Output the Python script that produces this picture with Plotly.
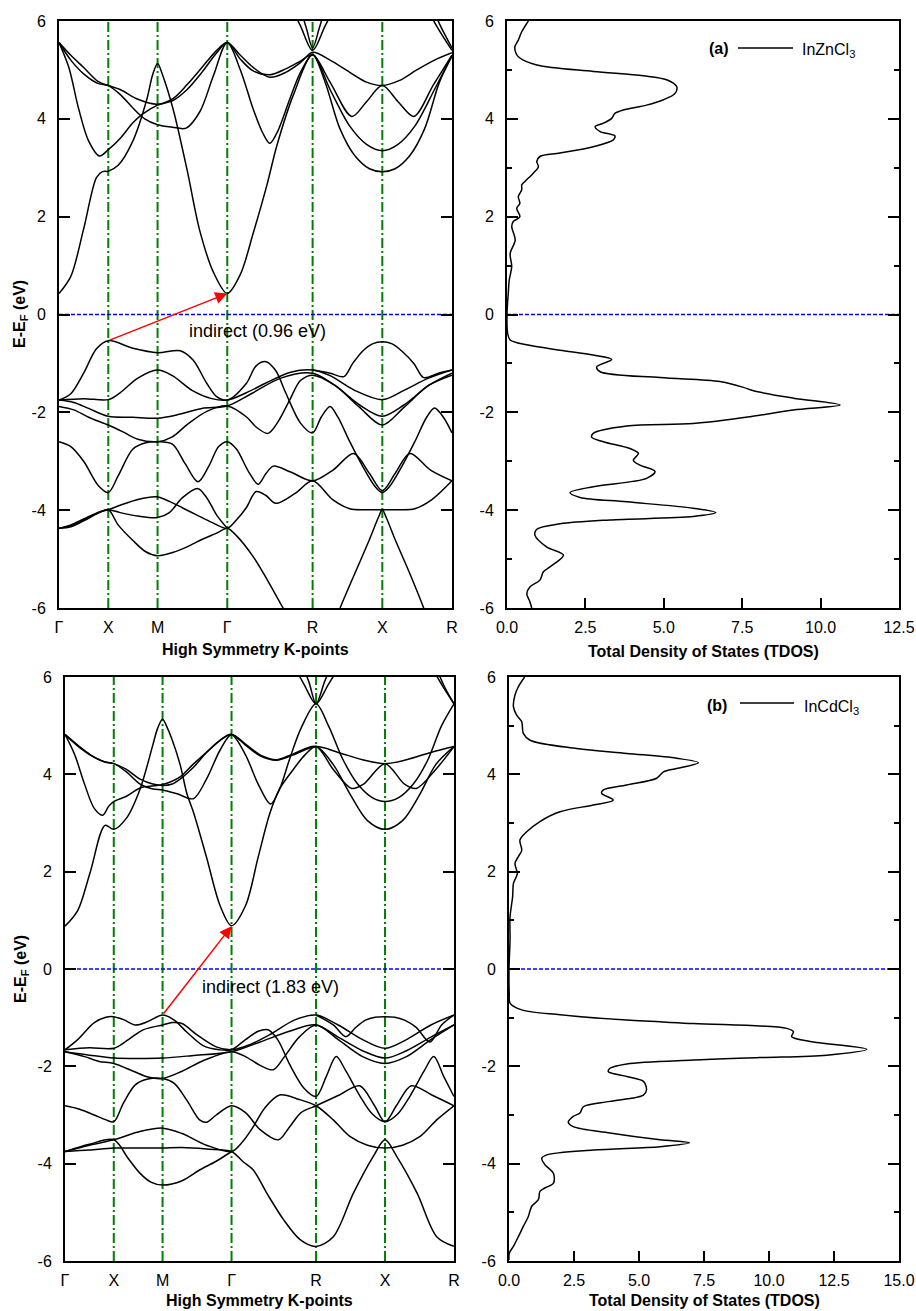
import plotly.graph_objects as go

W, H = 916, 1311
FONT = "Liberation Sans, Arial, sans-serif"

# ---------------- axes / labels ----------------
K = [0.0, 0.5, 1.0, 1.7071, 2.5731, 3.2802, 3.9873]
K_LABELS = ["Γ", "X", "M", "Γ", "R", "X", "R"]
E_TICKS = [-6, -4, -2, 0, 2, 4, 6]
E_TICK_TEXT = ["-6", "-4", "-2", "0", "2", "4", "6"]
E_MINOR = [-5, -3, -1, 1, 3, 5]
DOS_A_TICKS = [0, 2.5, 5, 7.5, 10, 12.5]
DOS_A_TEXT = ["0.0", "2.5", "5.0", "7.5", "10.0", "12.5"]
DOS_B_TICKS = [0, 2.5, 5, 7.5, 10, 12.5, 15]
DOS_B_TEXT = ["0.0", "2.5", "5.0", "7.5", "10.0", "12.5", "15.0"]

# ---------------- panel (a) InZnCl3 bands: (k, E) ----------------
a_c1 = [(0, 0.43), (0.12, 0.78), (0.25, 1.75), (0.38, 2.8), (0.44, 2.92), (0.5, 2.93), (0.6, 3.05),
        (0.75, 3.55), (0.89, 4.39), (0.95, 4.9), (1.0, 5.13), (1.05, 4.9), (1.16, 4.18), (1.3, 2.95),
        (1.43, 1.7), (1.57, 0.85), (1.707, 0.43), (1.84, 0.82), (1.97, 1.66), (2.11, 2.65), (2.21, 3.45),
        (2.38, 4.5), (2.573, 5.31), (2.75, 4.6), (2.95, 3.85), (3.12, 3.48), (3.28, 3.35), (3.44, 3.48),
        (3.61, 3.85), (3.81, 4.6), (3.987, 5.3)]
a_c2 = [(0, 5.56), (0.1, 5.05), (0.2, 4.2), (0.3, 3.55), (0.41, 3.24), (0.5, 3.37), (0.62, 3.6),
        (0.75, 3.92), (0.85, 4.1), (1.0, 4.28), (1.16, 4.38), (1.3, 4.6), (1.45, 4.95), (1.6, 5.35),
        (1.707, 5.56), (1.84, 5.0), (1.97, 4.2), (2.07, 3.7), (2.14, 3.5), (2.22, 3.75), (2.35, 4.45),
        (2.45, 4.95), (2.573, 5.31), (2.7, 4.75), (2.85, 3.8), (3.0, 3.25), (3.15, 2.98), (3.28, 2.92),
        (3.41, 2.98), (3.56, 3.25), (3.71, 3.8), (3.86, 4.75), (3.987, 5.28)]
a_c3 = [(0, 5.56), (0.12, 5.3), (0.25, 5.05), (0.4, 4.76), (0.5, 4.68), (0.62, 4.6), (0.8, 4.4),
        (1.0, 4.3), (1.16, 4.42), (1.3, 4.7), (1.45, 5.05), (1.6, 5.4), (1.707, 5.56), (1.84, 5.3),
        (1.97, 5.05), (2.14, 4.85), (2.3, 4.95), (2.45, 5.15), (2.573, 5.36), (2.75, 5.2), (2.95, 4.95),
        (3.12, 4.75), (3.28, 4.68), (3.45, 4.78), (3.63, 5.0), (3.81, 5.2), (3.987, 5.35)]
a_c4 = [(0, 5.56), (0.12, 5.2), (0.25, 4.92), (0.4, 4.72), (0.5, 4.68), (0.62, 4.5), (0.75, 4.22),
        (0.87, 4.0), (1.0, 3.88), (1.15, 3.83), (1.29, 3.81), (1.43, 4.15), (1.57, 4.9), (1.707, 5.56),
        (1.84, 5.22), (1.97, 4.98), (2.14, 4.9), (2.3, 5.02), (2.45, 5.18), (2.573, 5.31), (2.75, 4.75),
        (2.97, 4.05), (3.12, 4.35), (3.28, 4.68), (3.44, 4.35), (3.6, 4.05), (3.8, 4.7), (3.987, 5.3)]
a_u1 = [(2.33, 6.4), (2.45, 5.9), (2.573, 5.40), (2.70, 5.9), (2.83, 6.4)]
a_u2 = [(2.43, 6.4), (2.51, 5.85), (2.573, 5.45), (2.64, 5.85), (2.72, 6.4)]
a_u3 = [(3.70, 6.4), (3.83, 5.9), (3.987, 5.40)]
a_u4 = [(3.76, 6.4), (3.87, 5.9), (3.987, 5.45)]

a_v1 = [(0, -1.75), (0.12, -1.62), (0.25, -1.2), (0.38, -0.7), (0.5, -0.535), (0.75, -0.69), (1.0, -0.78),
        (1.23, -0.74), (1.36, -0.93), (1.5, -1.41), (1.6, -1.68), (1.707, -1.75), (1.9, -1.41), (2.0, -1.05),
        (2.1, -0.965), (2.2, -1.15), (2.3, -1.6), (2.45, -2.22), (2.573, -2.42), (2.66, -2.1), (2.75, -1.88),
        (2.83, -2.1), (2.95, -2.6), (3.08, -3.1), (3.2, -3.5), (3.28, -3.64), (3.36, -3.5), (3.48, -3.1),
        (3.61, -2.6), (3.73, -2.1), (3.81, -1.91), (3.9, -2.1), (3.987, -2.42)]
a_v2 = [(0, -1.75), (0.25, -1.72), (0.5, -1.74), (0.62, -1.6), (0.8, -1.3), (1.0, -1.135), (1.15, -1.25),
        (1.35, -1.55), (1.55, -1.72), (1.707, -1.75), (1.9, -1.6), (2.1, -1.4), (2.35, -1.18), (2.573, -1.135),
        (2.75, -1.25), (3.0, -1.55), (3.28, -1.74), (3.5, -1.55), (3.75, -1.3), (3.987, -1.135)]
a_v3 = [(0, -1.75), (0.15, -1.8), (0.3, -1.92), (0.5, -2.08), (0.75, -2.1), (1.0, -2.12), (1.2, -2.05),
        (1.45, -1.92), (1.707, -1.87), (1.95, -1.62), (2.25, -1.3), (2.573, -1.2), (2.8, -1.45), (3.05, -1.85),
        (3.28, -2.08), (3.5, -1.85), (3.75, -1.45), (3.987, -1.2)]
a_v4 = [(0, -1.88), (0.15, -1.95), (0.3, -2.1), (0.5, -2.26), (0.65, -2.4), (0.8, -2.55), (1.0, -2.6),
        (1.15, -2.5), (1.3, -2.25), (1.5, -1.98), (1.707, -1.87), (1.9, -2.09), (2.0, -2.3), (2.12, -2.43),
        (2.22, -2.2), (2.34, -1.75), (2.45, -1.35), (2.573, -1.24), (2.8, -1.45), (3.05, -1.9), (3.28, -2.26),
        (3.5, -1.9), (3.75, -1.45), (3.987, -1.24)]
a_v5 = [(0, -2.6), (0.12, -2.7), (0.25, -3.0), (0.4, -3.5), (0.5, -3.64), (0.6, -3.3), (0.75, -2.75),
        (0.88, -2.62), (1.0, -2.6), (1.15, -2.65), (1.28, -3.05), (1.41, -3.42), (1.52, -3.1), (1.62, -2.7),
        (1.707, -2.6), (1.8, -2.75), (1.92, -3.2), (2.02, -3.47), (2.1, -3.25), (2.175, -3.1), (2.35, -3.22),
        (2.573, -3.4), (2.78, -3.18), (2.99, -2.84), (3.15, -3.25), (3.28, -3.6), (3.41, -3.25), (3.56, -2.84),
        (3.77, -3.18), (3.987, -3.4)]
a_v6 = [(2.573, -1.135), (2.75, -1.2), (2.89, -1.27), (2.98, -1.0), (3.08, -0.75), (3.18, -0.6),
        (3.28, -0.556), (3.38, -0.6), (3.48, -0.75), (3.6, -1.0), (3.70, -1.29), (3.85, -1.2), (3.987, -1.135)]
a_v7 = [(0, -4.37), (0.12, -4.3), (0.25, -4.18), (0.4, -4.04), (0.5, -3.99), (0.62, -3.9), (0.8, -3.78),
        (1.0, -3.73), (1.12, -3.82), (1.26, -3.96), (1.4, -4.1), (1.55, -4.25), (1.707, -4.37), (1.8, -4.2),
        (1.9, -3.95), (2.0, -3.62), (2.1, -3.7), (2.2, -3.86), (2.4, -3.65), (2.573, -3.4), (2.78, -3.79),
        (2.95, -3.97), (3.1, -3.99), (3.28, -3.99), (3.46, -3.99), (3.61, -3.97), (3.78, -3.79), (3.987, -3.4)]
a_v8 = [(0, -4.37), (0.12, -4.32), (0.25, -4.2), (0.4, -4.05), (0.5, -3.99), (0.62, -4.05), (0.8, -4.12),
        (1.0, -4.15), (1.12, -4.05), (1.25, -3.75), (1.41, -3.56), (1.5, -3.75), (1.6, -4.1), (1.707, -4.37)]
a_v9 = [(0, -4.37), (0.12, -4.34), (0.25, -4.22), (0.4, -4.06), (0.5, -3.99), (0.6, -4.3), (0.75, -4.62),
        (0.88, -4.85), (1.0, -4.93), (1.16, -4.86), (1.3, -4.75), (1.45, -4.6), (1.6, -4.47), (1.707, -4.37),
        (1.8, -4.52), (1.97, -4.95), (2.12, -5.45), (2.276, -6.01), (2.4, -6.45)]
a_v10 = [(2.78, -6.4), (2.852, -6.0), (3.0, -5.3), (3.15, -4.6), (3.24, -4.15), (3.28, -3.99), (3.32, -4.15),
         (3.41, -4.6), (3.56, -5.3), (3.70, -6.0), (3.77, -6.4)]

bands_a = [a_c1, a_c2, a_c3, a_c4, a_u1, a_u2, a_u3, a_u4,
           a_v1, a_v2, a_v3, a_v4, a_v5, a_v6, a_v7, a_v8, a_v9, a_v10]

# ---------------- panel (b) InCdCl3 bands: (k, E) ----------------
b_c1 = [(0, 0.88), (0.13, 1.2), (0.26, 2.0), (0.41, 2.95), (0.5, 2.87), (0.63, 3.1), (0.77, 3.7),
        (0.9, 4.6), (0.95, 4.95), (1.0, 5.13), (1.05, 4.95), (1.1, 4.7), (1.18, 4.2), (1.25, 3.6),
        (1.32, 3.2), (1.45, 2.3), (1.59, 1.3), (1.707, 0.89), (1.85, 1.3), (1.98, 2.3), (2.1, 3.2),
        (2.2, 3.7), (2.34, 4.1), (2.46, 4.4), (2.573, 4.57), (2.75, 4.2), (2.92, 3.6), (3.1, 3.05),
        (3.28, 2.87), (3.46, 3.05), (3.64, 3.6), (3.8, 4.2), (3.987, 4.57)]
b_c2 = [(0, 4.82), (0.1, 4.4), (0.2, 3.8), (0.3, 3.3), (0.386, 3.16), (0.45, 3.35), (0.5, 3.44),
        (0.63, 3.55), (0.77, 3.72), (1.0, 3.79), (1.18, 3.95), (1.31, 4.2), (1.45, 4.45), (1.59, 4.7),
        (1.707, 4.82), (1.85, 4.4), (1.98, 3.8), (2.108, 3.39), (2.2, 3.7), (2.3, 4.3), (2.42, 4.95),
        (2.573, 5.45), (2.7, 5.0), (2.85, 4.3), (3.0, 3.8), (3.15, 3.52), (3.28, 3.44), (3.42, 3.52),
        (3.57, 3.8), (3.72, 4.3), (3.86, 5.0), (3.987, 5.45)]
b_c3 = [(0, 4.82), (0.13, 4.6), (0.26, 4.4), (0.4, 4.26), (0.5, 4.22), (0.63, 4.1), (0.77, 3.9),
        (0.9, 3.8), (1.0, 3.77), (1.1, 3.8), (1.18, 3.9), (1.32, 4.15), (1.45, 4.45), (1.59, 4.7),
        (1.707, 4.82), (1.85, 4.6), (2.0, 4.38), (2.169, 4.29), (2.34, 4.4), (2.573, 4.57), (2.8, 4.45),
        (3.05, 4.3), (3.28, 4.22), (3.5, 4.3), (3.75, 4.45), (3.987, 4.57)]
b_c4 = [(0, 4.82), (0.15, 4.55), (0.3, 4.35), (0.42, 4.25), (0.5, 4.22), (0.63, 4.05), (0.77, 3.8),
        (0.9, 3.7), (1.0, 3.68), (1.15, 3.6), (1.315, 3.5), (1.45, 3.9), (1.59, 4.5), (1.707, 4.82),
        (1.85, 4.62), (2.0, 4.4), (2.169, 4.3), (2.34, 4.42), (2.573, 4.57), (2.75, 4.1), (2.94, 3.71),
        (3.06, 3.8), (3.28, 4.22), (3.48, 3.8), (3.6, 3.71), (3.8, 4.1), (3.987, 4.57)]
b_u1 = [(2.33, 6.3), (2.45, 5.85), (2.573, 5.45), (2.70, 5.85), (2.84, 6.3)]
b_u2 = [(2.42, 6.3), (2.5, 5.9), (2.573, 5.45), (2.66, 5.9), (2.74, 6.3)]
b_u3 = [(3.73, 6.3), (3.86, 5.85), (3.987, 5.45)]
b_u4 = [(3.78, 6.3), (3.89, 5.8), (3.987, 5.45)]

b_v1 = [(0, -1.66), (0.13, -1.45), (0.3, -1.1), (0.42, -0.99), (0.5, -0.98), (0.6, -1.04), (0.72, -1.15),
        (0.85, -1.08), (1.0, -0.945), (1.12, -1.05), (1.25, -1.3), (1.42, -1.58), (1.58, -1.66),
        (1.707, -1.66), (1.85, -1.45), (1.98, -1.28), (2.08, -1.25), (2.18, -1.45), (2.3, -1.95),
        (2.45, -2.45), (2.573, -2.62), (2.68, -2.2), (2.78, -1.8), (2.88, -2.1), (3.02, -2.6), (3.15, -2.98),
        (3.28, -3.14), (3.41, -2.98), (3.54, -2.6), (3.68, -2.1), (3.78, -1.8), (3.88, -2.2), (3.987, -2.62)]
b_v2 = [(0, -1.66), (0.25, -1.62), (0.5, -1.63), (0.65, -1.45), (0.8, -1.25), (1.0, -1.15), (1.1, -1.1),
        (1.2, -1.12), (1.35, -1.35), (1.55, -1.6), (1.707, -1.66), (1.9, -1.55), (2.1, -1.35), (2.35, -1.05),
        (2.573, -0.945), (2.8, -1.15), (3.05, -1.45), (3.28, -1.63), (3.5, -1.45), (3.75, -1.15), (3.987, -0.945)]
b_v3 = [(0, -1.70), (0.25, -1.77), (0.5, -1.83), (0.75, -1.84), (1.0, -1.83), (1.3, -1.78), (1.707, -1.70),
        (2.0, -1.5), (2.3, -1.28), (2.573, -1.15), (2.8, -1.4), (3.05, -1.68), (3.28, -1.83), (3.5, -1.68),
        (3.75, -1.4), (3.987, -1.15)]
b_v4 = [(0, -1.70), (0.2, -1.8), (0.35, -1.9), (0.5, -1.94), (0.7, -2.1), (0.85, -2.22), (1.0, -2.25),
        (1.2, -2.1), (1.42, -1.88), (1.707, -1.70), (1.85, -1.8), (2.0, -1.98), (2.135, -2.07), (2.25, -1.8),
        (2.4, -1.4), (2.573, -1.15), (2.8, -1.45), (3.05, -1.8), (3.28, -1.94), (3.5, -1.8), (3.75, -1.45),
        (3.987, -1.15)]
b_v5 = [(0, -2.81), (0.15, -2.88), (0.3, -3.0), (0.42, -3.1), (0.5, -3.14), (0.6, -2.75), (0.72, -2.38),
        (0.85, -2.26), (1.0, -2.25), (1.12, -2.35), (1.25, -2.7), (1.38, -3.1), (1.45, -3.15), (1.55, -3.0),
        (1.707, -2.81), (1.85, -2.95), (2.0, -3.3), (2.187, -3.51), (2.3, -3.25), (2.42, -2.95), (2.573, -2.81),
        (2.8, -2.6), (3.02, -2.4), (3.17, -2.8), (3.28, -3.14), (3.4, -2.8), (3.55, -2.4), (3.77, -2.6),
        (3.987, -2.81)]
b_v6 = [(2.573, -0.945), (2.75, -1.15), (2.88, -1.39), (2.98, -1.2), (3.08, -1.05), (3.18, -0.99),
        (3.28, -0.98), (3.38, -0.99), (3.48, -1.05), (3.6, -1.2), (3.74, -1.5), (3.86, -1.15), (3.987, -0.945)]
b_v7 = [(0, -3.75), (0.25, -3.62), (0.5, -3.51), (0.75, -3.35), (1.0, -3.27), (1.2, -3.38), (1.45, -3.62),
        (1.707, -3.75), (1.82, -3.55), (1.93, -3.24), (2.05, -2.85), (2.2, -2.59), (2.4, -2.68), (2.573, -2.81),
        (2.75, -3.1), (2.92, -3.44), (3.1, -3.62), (3.28, -3.68), (3.46, -3.62), (3.64, -3.44), (3.81, -3.1),
        (3.987, -2.81)]
b_v8 = [(0, -3.75), (0.25, -3.72), (0.5, -3.68), (0.75, -3.68), (1.0, -3.68), (1.2, -3.67), (1.45, -3.7),
        (1.707, -3.75), (1.82, -3.95), (1.93, -4.13), (2.07, -4.61), (2.24, -5.15), (2.41, -5.56),
        (2.573, -5.7), (2.75, -5.5), (2.955, -4.61), (3.16, -3.85), (3.28, -3.51), (3.40, -3.85),
        (3.61, -4.61), (3.81, -5.5), (3.987, -5.7)]
b_v9 = [(0, -3.75), (0.25, -3.6), (0.5, -3.51), (0.65, -3.9), (0.77, -4.2), (0.88, -4.38), (1.0, -4.44),
        (1.2, -4.35), (1.38, -4.13), (1.55, -3.95), (1.707, -3.75)]

bands_b = [b_c1, b_c2, b_c3, b_c4, b_u1, b_u2, b_u3, b_u4,
           b_v1, b_v2, b_v3, b_v4, b_v5, b_v6, b_v7, b_v8, b_v9]

# ---------------- TDOS: (E, DOS) ----------------
dos_a = [(6.0, 0.68), (5.78, 0.47), (5.61, 0.36), (5.47, 0.25), (5.35, 0.28), (5.27, 0.36), (5.1, 0.95),
         (4.97, 2.75), (4.88, 4.35), (4.8, 5.09), (4.66, 5.41), (4.52, 5.36), (4.39, 4.99), (4.28, 4.45),
         (4.18, 3.71), (4.11, 3.44), (4.01, 3.34), (3.91, 3.07), (3.84, 2.81), (3.74, 2.97), (3.65, 3.44),
         (3.57, 3.39), (3.43, 2.75), (3.30, 1.69), (3.23, 1.05), (3.13, 0.95), (3.02, 1.0), (2.89, 0.84),
         (2.72, 0.57), (2.65, 0.47), (2.55, 0.47), (2.41, 0.36), (2.27, 0.41), (2.17, 0.31), (2.0, 0.41),
         (1.9, 0.2), (1.8, 0.15), (1.52, 0.26), (1.25, 0.1), (0.98, 0.15), (0.7, 0.07), (0.43, 0.04),
         (0.16, 0.01), (0.0, 0.0), (-0.2, 0.0), (-0.385, 0.02), (-0.52, 0.1), (-0.62, 0.63), (-0.73, 1.69),
         (-0.83, 2.75), (-0.92, 3.34), (-1.07, 2.86), (-1.17, 2.97), (-1.29, 4.88), (-1.37, 6.79),
         (-1.49, 7.54), (-1.56, 7.86), (-1.71, 9.13), (-1.85, 10.62), (-1.95, 9.13), (-2.09, 7.75),
         (-2.23, 5.94), (-2.28, 3.82), (-2.43, 2.75), (-2.51, 2.7), (-2.6, 3.07), (-2.74, 3.92), (-2.84, 4.19),
         (-2.98, 4.03), (-3.08, 4.24), (-3.21, 4.72), (-3.35, 4.45), (-3.52, 2.75), (-3.64, 2.01), (-3.74, 2.33),
         (-3.83, 3.82), (-3.96, 5.94), (-4.05, 6.66), (-4.13, 5.94), (-4.2, 3.28), (-4.28, 1.69), (-4.39, 0.95),
         (-4.51, 0.89), (-4.75, 1.26), (-4.92, 1.8), (-5.16, 1.37), (-5.26, 1.16), (-5.43, 1.05), (-5.57, 0.73),
         (-5.71, 0.63), (-5.87, 0.73), (-6.0, 0.79)]
dos_b = [(6.0, 0.6), (5.8, 0.36), (5.63, 0.23), (5.39, 0.17), (5.22, 0.29), (5.08, 0.49), (4.84, 0.55),
         (4.70, 0.81), (4.53, 2.6), (4.43, 4.53), (4.33, 6.45), (4.24, 7.28), (4.12, 6.45), (4.05, 5.94),
         (3.92, 5.68), (3.78, 4.53), (3.68, 3.63), (3.61, 3.56), (3.47, 4.01), (3.37, 3.24), (3.23, 1.96),
         (3.03, 1.19), (2.82, 0.68), (2.65, 0.42), (2.44, 0.49), (2.31, 0.36), (2.17, 0.23), (1.96, 0.32),
         (1.76, 0.17), (1.49, 0.14), (1.07, 0.04), (0.6, 0.04), (0.18, 0.01), (0.0, 0.0), (-0.5, 0.01),
         (-0.7, 0.04), (-0.84, 0.49), (-0.94, 1.96), (-1.05, 4.53), (-1.12, 7.09), (-1.22, 10.68),
         (-1.29, 10.94), (-1.39, 10.87), (-1.49, 11.58), (-1.65, 13.76), (-1.77, 12.22), (-1.82, 9.65),
         (-1.87, 7.09), (-1.95, 4.53), (-2.04, 3.88), (-2.11, 3.82), (-2.21, 4.53), (-2.31, 5.17),
         (-2.48, 5.29), (-2.59, 5.17), (-2.72, 3.88), (-2.83, 2.86), (-2.96, 2.73), (-3.03, 2.47),
         (-3.15, 2.28), (-3.24, 2.47), (-3.37, 3.88), (-3.51, 5.81), (-3.57, 6.94), (-3.65, 5.81),
         (-3.72, 3.24), (-3.82, 1.45), (-3.89, 1.26), (-4.02, 1.38), (-4.2, 1.71), (-4.4, 1.71), (-4.5, 1.38),
         (-4.57, 1.19), (-4.74, 1.13), (-4.88, 0.87), (-5.09, 0.74), (-5.29, 0.55), (-5.5, 0.36),
         (-5.7, 0.17), (-5.84, 0.01), (-5.98, 0.0)]

GAP_A = dict(vbm=(K[1], -0.535), cbm=(K[3], 0.43), text="indirect (0.96 eV)")
GAP_B = dict(vbm=(K[2], -0.945), cbm=(K[3], 0.88), text="indirect (1.83 eV)")

# ---------------- figure ----------------
def px(v):
    return v / W


def py(v):
    return 1 - v / H


fig = go.Figure()


def add_line(pts, xa, ya, dos=False):
    if dos:
        xs = [p[1] for p in pts]
        ys = [p[0] for p in pts]
    else:
        xs = [p[0] for p in pts]
        ys = [p[1] for p in pts]
    fig.add_trace(go.Scatter(x=xs, y=ys, mode="lines", xaxis=xa, yaxis=ya,
                             line=dict(color="black", width=1.5, shape="spline", smoothing=0.9),
                             showlegend=False, hoverinfo="skip"))


for b in bands_a:
    add_line(b, "x", "y")
for b in bands_b:
    add_line(b, "x3", "y3")
add_line(dos_a, "x2", "y2", dos=True)
add_line(dos_b, "x4", "y4", dos=True)

tickfont = dict(family=FONT, size=16, color="black")

band_x = dict(range=[0, K[-1]], tickvals=K, ticktext=K_LABELS, ticks="", showline=True,
              linecolor="black", linewidth=2, mirror=True, showgrid=False, zeroline=False,
              tickfont=tickfont, automargin=False, ticklabelstandoff=4, fixedrange=True)
yax = dict(range=[-6, 6], tickvals=E_TICKS, ticktext=E_TICK_TEXT, ticks="inside", ticklen=11,
           tickwidth=1.5, tickcolor="black", showline=True, linecolor="black", linewidth=2,
           mirror="ticks", showgrid=False, zeroline=False, tickfont=tickfont, automargin=False,
           ticklabelstandoff=8, fixedrange=True)
yax_dos = dict(yax, minor=dict(tickvals=E_MINOR, ticks="inside", ticklen=5, tickwidth=1.5,
                               tickcolor="black", showgrid=False))


def dos_x(rng, vals, text):
    return dict(range=rng, tickvals=vals, ticktext=text, ticks="inside", ticklen=10, tickwidth=1.5,
                tickcolor="black", showline=True, linecolor="black", linewidth=2, mirror=True,
                showgrid=False, zeroline=False, tickfont=tickfont, automargin=False,
                ticklabelstandoff=4, fixedrange=True)


fig.update_layout(
    width=W, height=H, margin=dict(l=0, r=0, t=0, b=0), autosize=False,
    paper_bgcolor="white", plot_bgcolor="white", font=dict(family=FONT, color="black"),
    xaxis=dict(band_x, domain=[px(59), px(452)], anchor="y"),
    yaxis=dict(yax, domain=[py(608), py(21)], anchor="x"),
    xaxis2=dict(dos_x([0, 12.5], DOS_A_TICKS, DOS_A_TEXT), domain=[px(507), px(899)], anchor="y2"),
    yaxis2=dict(yax_dos, domain=[py(608), py(21)], anchor="x2"),
    xaxis3=dict(band_x, domain=[px(65), px(454)], anchor="y3"),
    yaxis3=dict(yax, domain=[py(1261), py(677)], anchor="x3"),
    xaxis4=dict(dos_x([0, 15], DOS_B_TICKS, DOS_B_TEXT), domain=[px(509), px(899)], anchor="y4"),
    yaxis4=dict(yax_dos, domain=[py(1261), py(677)], anchor="x4"),
)

shapes = []
for xa, ya in [("x", "y"), ("x3", "y3")]:
    for kv in K[1:-1]:
        shapes.append(dict(type="line", xref=xa, yref=f"{ya} domain", x0=kv, x1=kv, y0=0, y1=1,
                           line=dict(color="#008000", width=2, dash="10px,3px,2px,3px"), layer="below"))
for xa, ya in [("x", "y"), ("x2", "y2"), ("x3", "y3"), ("x4", "y4")]:
    shapes.append(dict(type="line", xref=f"{xa} domain", yref=ya, x0=0, x1=1, y0=0, y1=0,
                       line=dict(color="#0000ff", width=1.5, dash="4px,2px"), layer="below"))
# legend sample lines
shapes.append(dict(type="line", xref="paper", yref="paper", x0=px(738), x1=px(793), y0=py(48), y1=py(48),
                   line=dict(color="black", width=1.5)))
shapes.append(dict(type="line", xref="paper", yref="paper", x0=px(740), x1=px(794), y0=py(703), y1=py(703),
                   line=dict(color="black", width=1.5)))
fig.update_layout(shapes=shapes)

ann = []
for gap, xa, ya in [(GAP_A, "x", "y"), (GAP_B, "x3", "y3")]:
    ann.append(dict(x=gap["cbm"][0], y=gap["cbm"][1], ax=gap["vbm"][0], ay=gap["vbm"][1],
                    xref=xa, yref=ya, axref=xa, ayref=ya, text="", showarrow=True,
                    arrowhead=2, arrowsize=1.6, arrowwidth=1.5, arrowcolor="#ff0000", standoff=0))


def txt(x, y, s, size=16, angle=0, xanchor="center", bold=False):
    ann.append(dict(x=px(x), y=py(y), xref="paper", yref="paper", text=s, showarrow=False,
                    textangle=angle, xanchor=xanchor, yanchor="middle",
                    font=dict(family=FONT, size=size, color="black",
                              weight="bold" if bold else "normal")))


txt(257.5, 331, GAP_A["text"], size=18)
txt(270, 987, GAP_B["text"], size=18)
txt(20, 314, "E-E<sub>F</sub> (eV)", angle=-90, bold=True)
txt(22, 969, "E-E<sub>F</sub> (eV)", angle=-90, bold=True)
txt(255.5, 649, "High Symmetry K-points", bold=True)
txt(703, 651, "Total Density of States (TDOS)", bold=True)
txt(259.5, 1300, "High Symmetry K-points", bold=True)
txt(704, 1300, "Total Density of States (TDOS)", bold=True)
txt(719, 49, "(a)", bold=True)
txt(800, 51, "InZnCl<sub>3</sub>", xanchor="left")
txt(717, 705, "(b)", bold=True)
txt(802, 707, "InCdCl<sub>3</sub>", xanchor="left")
fig.update_layout(annotations=ann)

fig.write_html("out.html")
